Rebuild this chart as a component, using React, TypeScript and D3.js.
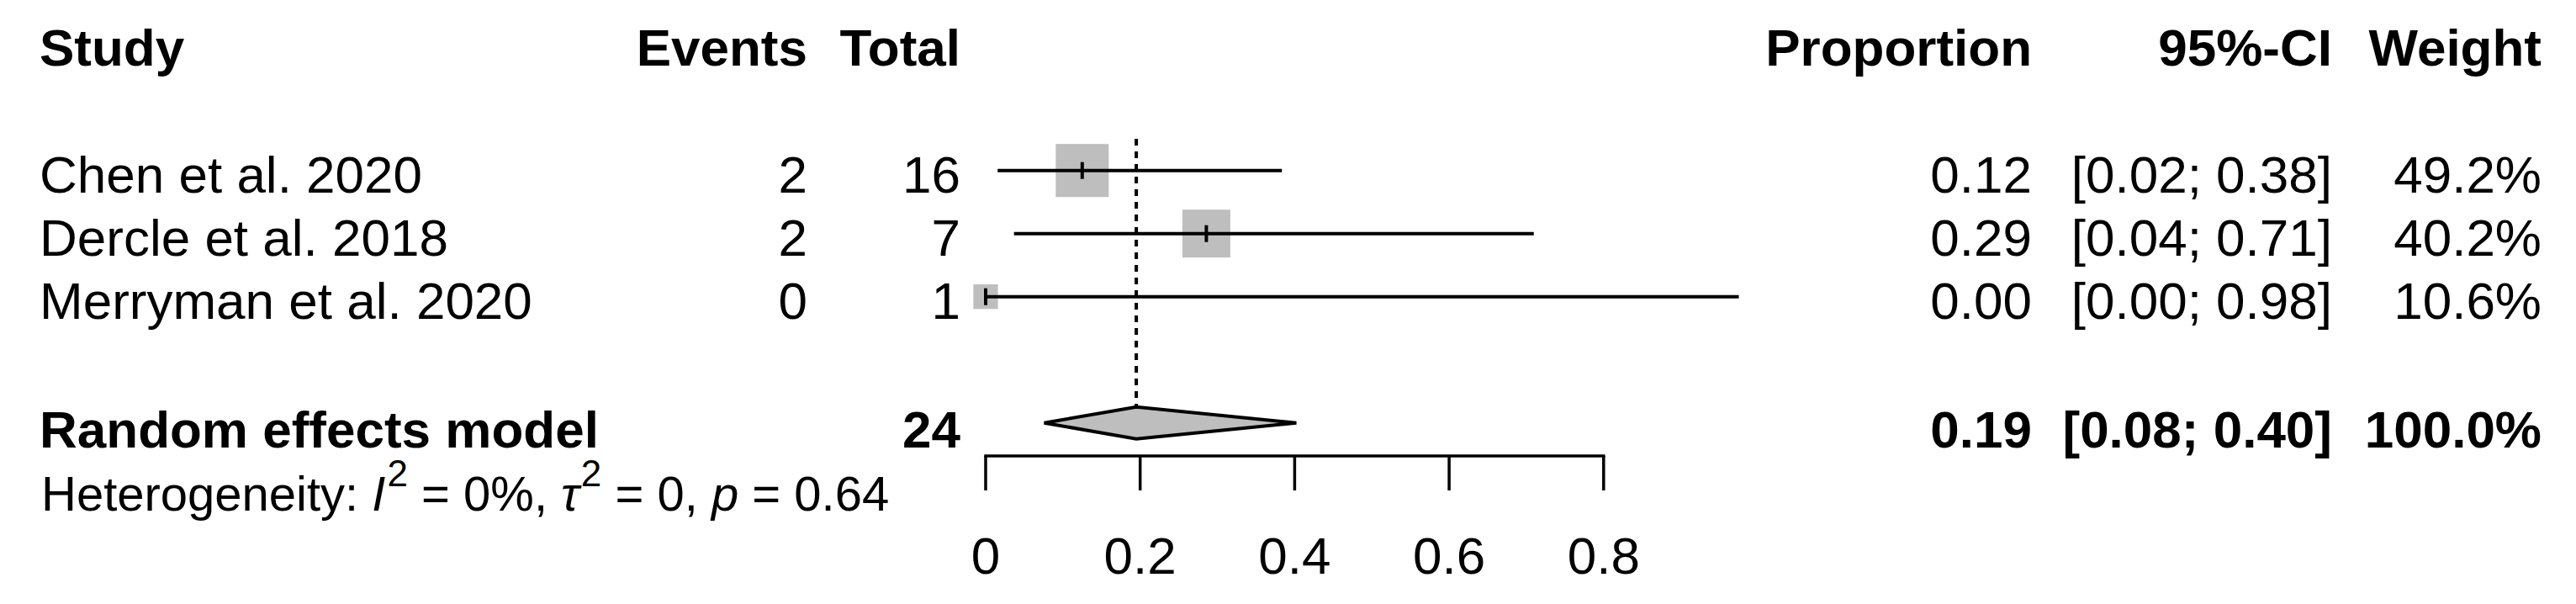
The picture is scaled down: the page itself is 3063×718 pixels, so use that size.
import React from 'react';
import * as d3 from 'd3';

// ---- data ----
const studies = ['Chen et al. 2020', 'Dercle et al. 2018', 'Merryman et al. 2020'];
const events = [2, 2, 0];
const totals = [16, 7, 1];
const proportions = [0.125, 0.2857, 0.0];
const ciLower = [0.0155, 0.0367, 0.0];
const ciUpper = [0.3835, 0.7096, 0.975];
const weights = [49.2, 40.2, 10.6];
const proportionLabels = ['0.12', '0.29', '0.00'];
const ciLabels = ['[0.02; 0.38]', '[0.04; 0.71]', '[0.00; 0.98]'];
const weightLabels = ['49.2%', '40.2%', '10.6%'];

const summaryLabel = 'Random effects model';
const summaryTotal = 24;
const summaryEstimate = 0.195;
const summaryLower = 0.0758;
const summaryUpper = 0.4022;
const summaryProportionLabel = '0.19';
const summaryCiLabel = '[0.08; 0.40]';
const summaryWeightLabel = '100.0%';

const hetI2 = '0%';
const hetTau2 = '0';
const hetP = '0.64';

const headerLabels = ['Study', 'Events', 'Total', 'Proportion', '95%-CI', 'Weight'];
const xTicks = [0, 0.2, 0.4, 0.6, 0.8];
const xTickLabels = ['0', '0.2', '0.4', '0.6', '0.8'];

// ---- layout ----
const W = 3063;
const H = 718;
const FONT = "'Liberation Sans', Arial, Helvetica, sans-serif";
const FS = 62;
const FS_HET = 58;

export default function App() {
  const x = d3.scaleLinear().domain([0, 0.8]).range([1172, 1906.8]);
  const row = d3.scaleLinear().domain([0, 1]).range([52.7, 127.7]);
  const box = d3.scaleSqrt().domain([0, 49.2]).range([0, 63]);
  const base = 26;

  const colX = {
    study: 47,
    events: 960,
    total: 1142,
    prop: 2416,
    ci: 2773,
    weight: 3022,
  };

  const headerAnchors = ['start', 'end', 'end', 'end', 'end', 'end'];
  const headerXs = [colX.study, colX.events, colX.total, colX.prop, colX.ci, colX.weight];

  const sumY = row(6);
  const axisY = 542;
  const dh = 19;

  const diamond = [
    [x(summaryLower), sumY],
    [x(summaryEstimate), sumY - dh],
    [x(summaryUpper), sumY],
    [x(summaryEstimate), sumY + dh],
  ];

  return (
    <svg
      width={W}
      height={H}
      viewBox={`0 0 ${W} ${H}`}
      style={{ position: 'absolute', left: 0, top: 0, background: '#fff' }}
      fontFamily={FONT}
    >
      <rect x={0} y={0} width={W} height={H} fill="#fff" />

      {/* headers */}
      {headerLabels.map((h, i) => (
        <text
          key={h}
          x={headerXs[i]}
          y={row(0) + base - 1}
          fontSize={FS}
          fontWeight="bold"
          textAnchor={headerAnchors[i] as any}
        >
          {h}
        </text>
      ))}

      {/* reference dashed line at summary estimate */}
      <line
        x1={x(summaryEstimate)}
        x2={x(summaryEstimate)}
        y1={165}
        y2={sumY - dh}
        stroke="#000"
        strokeWidth={4}
        strokeDasharray="8,7"
      />

      {/* studies */}
      {studies.map((s, i) => {
        const yc = row(i + 2);
        const size = box(weights[i]);
        const ty = yc + base;
        return (
          <g key={s}>
            <text x={colX.study} y={ty} fontSize={FS}>
              {s}
            </text>
            <text x={colX.events} y={ty} fontSize={FS} textAnchor="end">
              {events[i]}
            </text>
            <text x={colX.total} y={ty} fontSize={FS} textAnchor="end">
              {totals[i]}
            </text>
            <rect
              x={x(proportions[i]) - size / 2}
              y={yc - size / 2}
              width={size}
              height={size}
              fill="#bebebe"
            />
            <line
              x1={x(ciLower[i])}
              x2={x(ciUpper[i])}
              y1={yc}
              y2={yc}
              stroke="#000"
              strokeWidth={4}
            />
            <line
              x1={x(proportions[i])}
              x2={x(proportions[i])}
              y1={yc - 10}
              y2={yc + 10}
              stroke="#000"
              strokeWidth={4}
            />
            <text x={colX.prop} y={ty} fontSize={FS} textAnchor="end">
              {proportionLabels[i]}
            </text>
            <text x={colX.ci} y={ty} fontSize={FS} textAnchor="end">
              {ciLabels[i]}
            </text>
            <text x={colX.weight} y={ty} fontSize={FS} textAnchor="end">
              {weightLabels[i]}
            </text>
          </g>
        );
      })}

      {/* summary */}
      <text x={colX.study} y={sumY + base + 3} fontSize={FS} fontWeight="bold">
        {summaryLabel}
      </text>
      <text x={colX.total} y={sumY + base + 3} fontSize={FS} fontWeight="bold" textAnchor="end">
        {summaryTotal}
      </text>
      <polygon
        points={diamond.map((p) => p.join(',')).join(' ')}
        fill="#bebebe"
        stroke="#000"
        strokeWidth={4}
        strokeLinejoin="miter"
      />
      <text x={colX.prop} y={sumY + base + 3} fontSize={FS} fontWeight="bold" textAnchor="end">
        {summaryProportionLabel}
      </text>
      <text x={colX.ci} y={sumY + base + 3} fontSize={FS} fontWeight="bold" textAnchor="end">
        {summaryCiLabel}
      </text>
      <text x={colX.weight} y={sumY + base + 3} fontSize={FS} fontWeight="bold" textAnchor="end">
        {summaryWeightLabel}
      </text>

      {/* heterogeneity */}
      <text x={colX.study + 2} y={row(7) + 29} fontSize={FS_HET}>
        <tspan>Heterogeneity: </tspan>
        <tspan fontStyle="italic">I</tspan>
        <tspan fontSize={44} dy={-29} dx={2}>2</tspan>
        <tspan dy={29}>{` = ${hetI2}, `}</tspan>
        <tspan fontStyle="italic">τ</tspan>
        <tspan fontSize={44} dy={-29} dx={2}>2</tspan>
        <tspan dy={29}>{` = ${hetTau2}, `}</tspan>
        <tspan fontStyle="italic">p</tspan>
        <tspan>{` = ${hetP}`}</tspan>
      </text>

      {/* x axis */}
      <line
        x1={x(xTicks[0])}
        x2={x(xTicks[xTicks.length - 1])}
        y1={axisY}
        y2={axisY}
        stroke="#000"
        strokeWidth={3.5}
        strokeLinecap="square"
      />
      {xTicks.map((t, i) => (
        <g key={t}>
          <line x1={x(t)} x2={x(t)} y1={axisY} y2={axisY + 41} stroke="#000" strokeWidth={3.5} />
          <text x={x(t)} y={681.7} fontSize={FS} textAnchor="middle">
            {xTickLabels[i]}
          </text>
        </g>
      ))}
    </svg>
  );
}
